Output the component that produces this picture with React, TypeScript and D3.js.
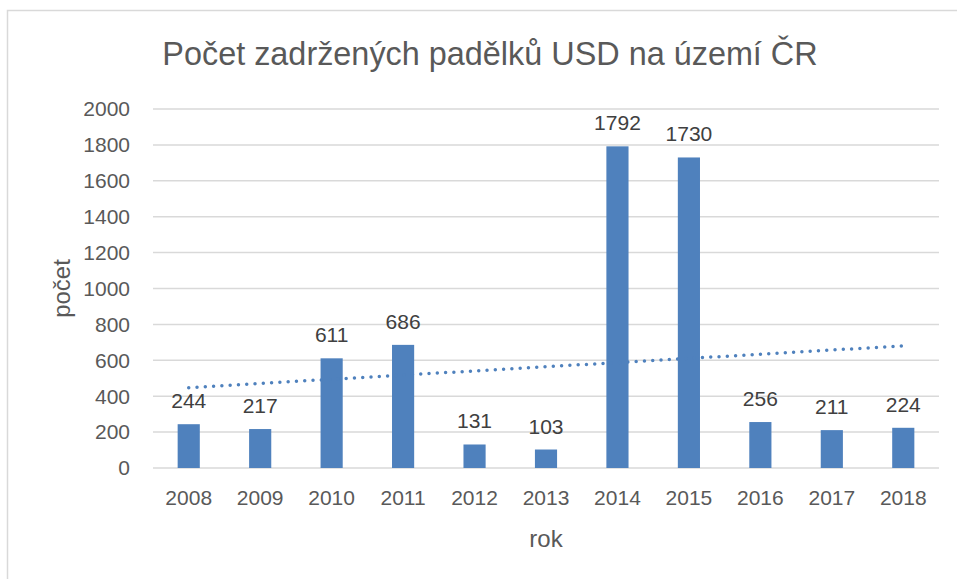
import { useMemo } from 'react';
import * as d3 from 'd3';

const TITLE = 'Počet zadržených padělků USD na území ČR';
const X_TITLE = 'rok';
const Y_TITLE = 'počet';

const years = ['2008', '2009', '2010', '2011', '2012', '2013', '2014', '2015', '2016', '2017', '2018'];
const counts = [244, 217, 611, 686, 131, 103, 1792, 1730, 256, 211, 224];
const yTicks = [0, 200, 400, 600, 800, 1000, 1200, 1400, 1600, 1800, 2000];

const W = 957;
const H = 579;
const PLOT = { left: 153, right: 939, top: 109, bottom: 468 };
const FONT = "'Liberation Sans', Arial, sans-serif";
const TEXT = '#595959';
const BAR = '#4F81BD';
const GRID = '#D9D9D9';

const App = () => {
  const xScale = useMemo(
    () => d3.scaleBand<string>().domain(years).range([PLOT.left, PLOT.right]).paddingInner(0.69).paddingOuter(0.345),
    []
  );
  const yScale = useMemo(() => d3.scaleLinear().domain([0, 2000]).range([PLOT.bottom, PLOT.top]), []);

  // linear trendline (least squares over category index)
  const n = counts.length;
  const idx = d3.range(n);
  const mx = d3.mean(idx) as number;
  const my = d3.mean(counts) as number;
  const slope =
    d3.sum(idx, (i) => (i - mx) * (counts[i] - my)) / d3.sum(idx, (i) => (i - mx) * (i - mx));
  const icept = my - slope * mx;
  const center = (i: number) => (xScale(years[i]) as number) + xScale.bandwidth() / 2;
  const trend = d3
    .line<number>()
    .x((i) => center(i))
    .y((i) => yScale(icept + slope * i))([0, n - 1]);

  return (
    <svg width={W} height={H} style={{ position: 'fixed', left: 0, top: 0, background: '#fff' }} fontFamily={FONT}>
      <rect x={7.5} y={10.5} width={W + 20} height={H + 20} fill="#fff" stroke={GRID} strokeWidth={1.5} />

      <text x={490} y={65} textAnchor="middle" fontSize={32.4} fill={TEXT}>
        {TITLE}
      </text>

      {yTicks.map((t) => (
        <g key={t}>
          <line x1={PLOT.left} x2={PLOT.right} y1={yScale(t)} y2={yScale(t)} stroke={GRID} strokeWidth={1.5} />
          <text x={130} y={yScale(t)} dy="0.35em" textAnchor="end" fontSize={21} fill={TEXT}>
            {t}
          </text>
        </g>
      ))}

      {years.map((yr, i) => (
        <g key={yr}>
          <rect
            x={xScale(yr)}
            y={yScale(counts[i])}
            width={xScale.bandwidth()}
            height={yScale(0) - yScale(counts[i])}
            fill={BAR}
          />
          <text x={center(i)} y={yScale(counts[i]) - 16} textAnchor="middle" fontSize={21} fill="#404040">
            {counts[i]}
          </text>
          <text x={center(i)} y={498} dy="0.35em" textAnchor="middle" fontSize={21} fill={TEXT}>
            {yr}
          </text>
        </g>
      ))}

      <path
        d={trend || ''}
        fill="none"
        stroke={BAR}
        strokeWidth={3.5}
        strokeLinecap="round"
        strokeDasharray="0 8.3"
      />

      <text x={(PLOT.left + PLOT.right) / 2} y={539} dy="0.35em" textAnchor="middle" fontSize={24} fill={TEXT}>
        {X_TITLE}
      </text>
      <text
        transform={`translate(62,${(PLOT.top + PLOT.bottom) / 2}) rotate(-90)`}
        dy="0.35em"
        textAnchor="middle"
        fontSize={24}
        fill={TEXT}
      >
        {Y_TITLE}
      </text>
    </svg>
  );
};

export default App;
